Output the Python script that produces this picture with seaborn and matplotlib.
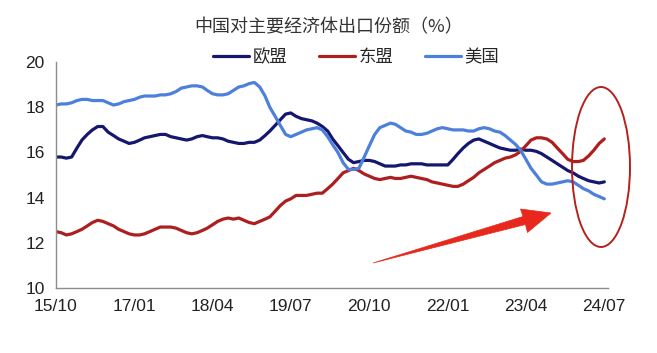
import matplotlib
matplotlib.use("Agg")
import matplotlib.pyplot as plt
import seaborn as sns
import pandas as pd
from matplotlib.patches import Ellipse, Polygon

# Monthly export shares (%), 2015-10 .. 2024-07
eu = [15.8, 15.8, 15.75, 15.8, 16.2, 16.55, 16.8, 17.0, 17.15, 17.15,
      16.9, 16.75, 16.6, 16.5, 16.4, 16.45, 16.55, 16.65, 16.7, 16.75,
      16.8, 16.8, 16.7, 16.65, 16.6, 16.55, 16.6, 16.7, 16.75, 16.7,
      16.65, 16.65, 16.6, 16.5, 16.45, 16.4, 16.4, 16.45, 16.45, 16.55,
      16.75, 16.95, 17.2, 17.45, 17.7, 17.75, 17.6, 17.5, 17.45, 17.4,
      17.3, 17.15, 16.95, 16.6, 16.3, 16.0, 15.7, 15.55, 15.6, 15.65,
      15.65, 15.6, 15.5, 15.4, 15.4, 15.4, 15.45, 15.45, 15.5, 15.5,
      15.5, 15.45, 15.45, 15.45, 15.45, 15.45, 15.7, 15.95, 16.2, 16.4,
      16.55, 16.6, 16.5, 16.4, 16.3, 16.2, 16.15, 16.1, 16.1, 16.15,
      16.1, 16.1, 16.05, 15.95, 15.8, 15.65, 15.5, 15.35, 15.2, 15.1,
      14.95, 14.85, 14.75, 14.7, 14.65, 14.7]
asean = [12.5, 12.45, 12.35, 12.4, 12.5, 12.6, 12.75, 12.9, 13.0, 12.95,
         12.85, 12.75, 12.6, 12.5, 12.4, 12.35, 12.35, 12.4, 12.5, 12.6,
         12.7, 12.7, 12.7, 12.65, 12.55, 12.45, 12.4, 12.45, 12.55, 12.65,
         12.8, 12.95, 13.05, 13.1, 13.05, 13.1, 13.0, 12.9, 12.85, 12.95,
         13.05, 13.15, 13.4, 13.65, 13.85, 13.95, 14.1, 14.1, 14.1, 14.15,
         14.2, 14.2, 14.4, 14.6, 14.85, 15.1, 15.2, 15.3, 15.2, 15.05,
         14.95, 14.85, 14.8, 14.85, 14.9, 14.85, 14.85, 14.9, 14.95, 14.9,
         14.85, 14.8, 14.7, 14.65, 14.6, 14.55, 14.5, 14.5, 14.6, 14.75,
         14.9, 15.1, 15.25, 15.4, 15.55, 15.65, 15.75, 15.8, 15.9, 16.05,
         16.3, 16.55, 16.65, 16.65, 16.6, 16.45, 16.2, 15.95, 15.7, 15.6,
         15.6, 15.65, 15.85, 16.1, 16.4, 16.6]
us = [18.1, 18.15, 18.15, 18.2, 18.3, 18.35, 18.35, 18.3, 18.3, 18.3,
      18.2, 18.1, 18.15, 18.25, 18.3, 18.35, 18.45, 18.5, 18.5, 18.5,
      18.55, 18.55, 18.6, 18.7, 18.85, 18.9, 18.95, 18.95, 18.9, 18.75,
      18.6, 18.55, 18.55, 18.6, 18.75, 18.9, 18.95, 19.05, 19.1, 18.9,
      18.5, 18.0, 17.6, 17.2, 16.8, 16.7, 16.8, 16.9, 17.0, 17.05,
      17.1, 17.0, 16.7, 16.35, 16.0, 15.55, 15.25, 15.25, 15.3, 15.8,
      16.3, 16.8, 17.1, 17.2, 17.3, 17.25, 17.1, 16.95, 16.9, 16.8,
      16.8, 16.85, 16.95, 17.05, 17.1, 17.05, 17.0, 17.0, 17.0, 16.95,
      16.95, 17.05, 17.1, 17.05, 16.95, 16.9, 16.75, 16.55, 16.35, 16.1,
      15.7, 15.3, 15.0, 14.7, 14.6, 14.6, 14.65, 14.7, 14.75, 14.7,
      14.55, 14.4, 14.3, 14.15, 14.05, 13.95]

series_names = ["欧盟", "东盟", "美国"]
series_colors = ["#15166e", "#ad1f1f", "#4d80dc"]

months = pd.date_range("2015-10-01", periods=len(eu), freq="MS")
tick_months = months[::15]

df = pd.DataFrame({"month": months, "欧盟": eu, "东盟": asean, "美国": us})
long_df = df.melt(id_vars="month", var_name="区域", value_name="份额")

sns.set_style("white")
plt.rcParams["font.family"] = ["Noto Sans CJK SC", "DejaVu Sans"]

fig = plt.figure(figsize=(6.57, 3.53), dpi=100)
ax = fig.add_axes([0.085, 0.184, 0.84, 0.64])

sns.lineplot(data=long_df, x="month", y="份额", hue="区域",
             hue_order=series_names, palette=series_colors,
             linewidth=2.3, ax=ax, legend=True)

ax.set_ylim(10, 20)
ax.set_yticks([10, 12, 14, 16, 18, 20])
ax.set_xlim(months[0], months[-1] + pd.Timedelta(days=20))
ax.set_xticks(tick_months)
ax.set_xticklabels([m.strftime("%y/%m") for m in tick_months])
ax.set_xlabel("")
ax.set_ylabel("")

for side in ["top", "right"]:
    ax.spines[side].set_visible(False)
for side in ["left", "bottom"]:
    ax.spines[side].set_color("#8c8c8c")
    ax.spines[side].set_linewidth(1.0)
ax.tick_params(axis="both", direction="out", length=4, width=1,
               color="#8c8c8c", labelsize=12.5, labelcolor="#222222", pad=4)
for lab in ax.get_xticklabels() + ax.get_yticklabels():
    lab.set_family(["Liberation Sans", "DejaVu Sans"])

ax.legend(loc="center", bbox_to_anchor=(0.542, 0.838),
          bbox_transform=fig.transFigure, ncol=3,
          frameon=False, fontsize=12.5, handlelength=2.1, handletextpad=0.2,
          columnspacing=1.8, borderaxespad=0, borderpad=0)

fig.text(0.5, 0.923, "中国对主要经济体出口份额（%）", ha="center", va="center",
         fontsize=13, color="#333333")

# red ellipse and arrow highlights (figure pixel positions)
W, H = 657, 353
ell = Ellipse((601 / W, 1 - 167 / H), 58 / W, 160 / H,
              transform=fig.transFigure, fill=False,
              edgecolor="#b5211f", linewidth=1.4)
fig.patches.append(ell)

arrow_px = [(373, 263), (523, 216.5), (520.5, 209), (551, 213),
            (527.5, 232.5), (525.5, 224.5)]
arrow = Polygon([(x / W, 1 - y / H) for x, y in arrow_px], closed=True,
                transform=fig.transFigure, facecolor="#e8281c",
                edgecolor="#e8281c", linewidth=0.5)
fig.patches.append(arrow)

fig.savefig("out.png", dpi=100)
